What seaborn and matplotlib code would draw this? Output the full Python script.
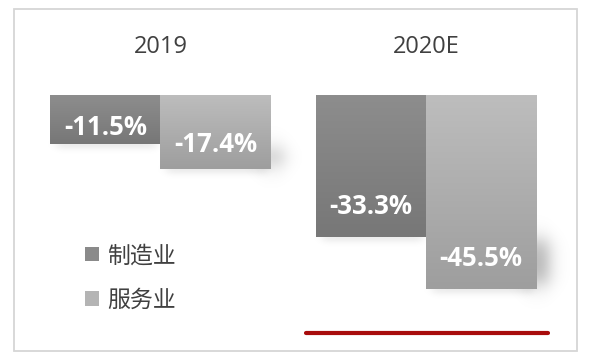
import numpy as np
import pandas as pd
import matplotlib
matplotlib.use("Agg")
import matplotlib.pyplot as plt
import seaborn as sns
from matplotlib.patches import Rectangle, Patch
from matplotlib.lines import Line2D

# ---- data ----
years = ["2019", "2020E"]
sectors = ["制造业", "服务业"]
manufacturing = [-11.5, -33.3]
services = [-17.4, -45.5]
series = [manufacturing, services]

df = pd.DataFrame({
    "year": years * 2,
    "sector": [sectors[0]] * len(years) + [sectors[1]] * len(years),
    "value": manufacturing + services,
})

# ---- style ----
sns.set_theme(style="white")
plt.rcParams["font.family"] = ["Open Sans", "Noto Sans CJK SC", "DejaVu Sans"]

W, H = 590, 357
fig = plt.figure(figsize=(W / 100, H / 100), dpi=100)
fig.patch.set_facecolor("white")

# axes: top edge at the zero line (y=95px), full width
ax_top_px = 95
ax = fig.add_axes([0, 0, 1, 1 - ax_top_px / H])
ax.set_facecolor("none")

base_cols = ["#858585", "#b0b0b0"]
grad_cols = [("#8d8d8d", "#777777"), ("#bdbdbd", "#9e9e9e")]

sns.barplot(data=df, x="year", y="value", hue="sector", order=years,
            hue_order=sectors, palette=base_cols, width=0.83, saturation=1,
            errorbar=None, linewidth=0, legend=False, ax=ax)

xlim = (-0.6045, 1.6177)
ylim = (-61.5, 0)
px_x = W / (xlim[1] - xlim[0])          # px per x unit
px_y = (H - ax_top_px) / (ylim[1] - ylim[0])  # px per y unit


def hex2rgb(h):
    h = h.lstrip("#")
    return np.array([int(h[i:i + 2], 16) / 255 for i in (0, 2, 4)])


def sig(t, s):
    return 1 / (1 + np.exp(-t / s))


def soft_box(x0, x1, y0, y1, sxp, syp, amax, pad=30):
    """blurred dark box given in data coords, blur in px"""
    sx, sy = sxp / px_x, syp / px_y
    xs = np.linspace(x0 - pad / px_x, x1 + pad / px_x, 160)
    ys = np.linspace(y0 - pad / px_y, y1 + pad / px_y, 160)
    XX, YY = np.meshgrid(xs, ys)
    alpha = (sig(XX - x0, sx) - sig(XX - x1, sx)) * (sig(YY - y0, sy) - sig(YY - y1, sy))
    img = np.zeros((len(ys), len(xs), 4))
    img[..., 3] = alpha * amax
    ax.imshow(img, extent=(xs[0], xs[-1], ys[0], ys[-1]), origin="lower",
              aspect="auto", zorder=0.5, interpolation="bilinear")


for hi, cont in enumerate(ax.containers):
    top_c, bot_c = (hex2rgb(c) for c in grad_cols[hi])
    for bi, p in enumerate(cont.patches):
        x0 = p.get_x()
        w = p.get_width()
        x1 = x0 + w
        y_end = p.get_y() + p.get_height()   # negative
        h_px = abs(p.get_height()) * px_y
        # faint shadow under the bar
        soft_box(x0 + 6 / px_x, x1 - 4 / px_x, y_end - 4 / px_y, y_end + 4 / px_y,
                 3, 2, 0.10)
        if hi == 1:
            # curled shadow on the right of the light bar
            soft_box(x1 - 12 / px_x, x1 + 13 / px_x,
                     y_end + 5 / px_y, y_end + 0.25 * h_px / px_y,
                     5, 6, 0.32)
        # vertical gradient fill
        t = np.linspace(0, 1, 100)[:, None]
        grad = bot_c[None, :] * (1 - t) + top_c[None, :] * t
        ax.imshow(grad[:, None, :], extent=(x0, x1, y_end, 0), origin="lower",
                  aspect="auto", zorder=2, interpolation="bilinear")
        p.set_zorder(1.5)
        # value label
        off = min(30, 0.33 * h_px) / px_y
        ax.text(x0 + w / 2, y_end + off, f"{series[hi][bi]:.1f}%",
                ha="center", va="center", color="white", fontsize=18.5,
                fontweight="bold", zorder=3)

ax.set_xlim(*xlim)
ax.set_ylim(*ylim)
ax.xaxis.tick_top()
ax.tick_params(axis="x", length=0, pad=26, labelsize=17, labelcolor="#404040")
ax.set_yticks([])
ax.set_xlabel("")
ax.set_ylabel("")
for s in ax.spines.values():
    s.set_visible(False)

# legend
handles = [Patch(facecolor=c, edgecolor="none") for c in ["#8a8a8a", "#b4b4b4"]]
leg = ax.legend(handles, sectors, loc="center left",
                bbox_to_anchor=(85 / W, 1 - 278.5 / H), bbox_transform=fig.transFigure,
                frameon=False, fontsize=16.5, handlelength=0.6, handleheight=0.6,
                handletextpad=0.35, labelspacing=0.9, borderpad=0, borderaxespad=0)
for txt in leg.get_texts():
    txt.set_color("#404040")

# red underline
fig.add_artist(Line2D([306 / W, 548 / W], [1 - 333 / H, 1 - 333 / H],
                      transform=fig.transFigure, color="#a80c0c", lw=3))
# outer frame
fig.add_artist(Rectangle((14 / W, 1 - 351 / H), (577 - 14) / W, (351 - 9) / H,
                         transform=fig.transFigure, fill=False,
                         edgecolor="#d6d6d6", lw=1.3))

fig.savefig("out.png", dpi=100)
